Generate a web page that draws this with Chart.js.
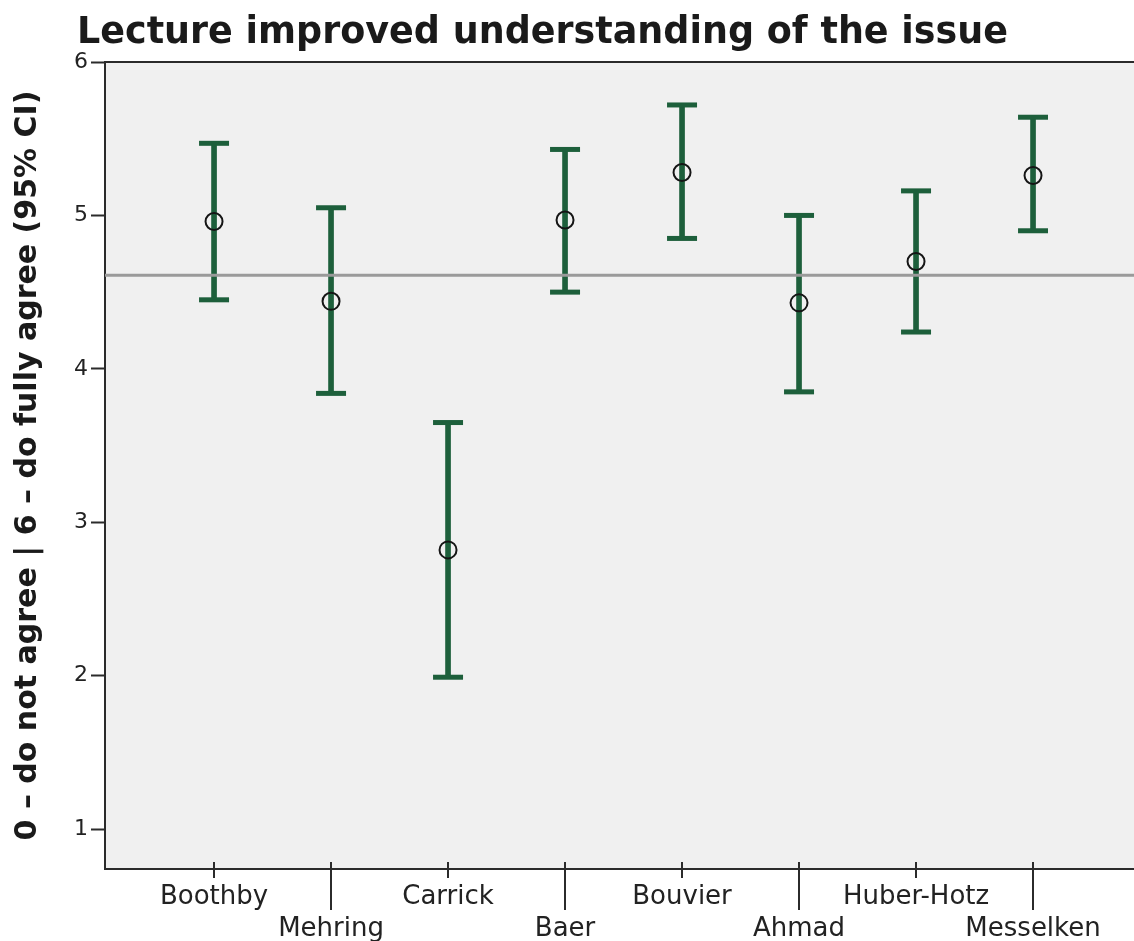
<!DOCTYPE html>
<html>
<head>
<meta charset="utf-8">
<script src="https://cdn.jsdelivr.net/npm/chart.js@4"></script>
<style>
    html, body {
        margin: 0;
        padding: 0;
        background: #ffffff;
        overflow: hidden;
    }
    #wrap {
        position: relative;
        width: 1134px;
        height: 941px;
    }
    #title {
        position: absolute;
        left: 77px;
        top: 9px;
        font-family: "DejaVu Sans", sans-serif;
        font-weight: bold;
        font-size: 36.5px;
        color: #1a1a1a;
        white-space: nowrap;
    }
</style>
</head>
<body>
<div id="wrap">
    <canvas id="chart" width="1134" height="941"></canvas>
    <div id="title">Lecture improved understanding of the issue</div>
</div>
<script>
const lecturers = ["Boothby", "Mehring", "Carrick", "Baer", "Bouvier", "Ahmad", "Huber-Hotz", "Messelken"];
const means = [4.96, 4.44, 2.82, 4.97, 5.28, 4.43, 4.70, 5.26];
const upperCI = [5.47, 5.05, 3.65, 5.43, 5.72, 5.00, 5.16, 5.64];
const lowerCI = [4.45, 3.84, 1.99, 4.50, 4.85, 3.85, 4.24, 4.90];
const overallMean = 4.61;
const yTicks = [1, 2, 3, 4, 5, 6];

const X_MIN = -0.932;
const X_MAX = 7.863;
const GREEN = "#1d5f3b";
const AXIS = "#2b2b2b";

const frame = {
    id: "frame",
    beforeDraw(chart) {
        const {ctx, chartArea} = chart;
        ctx.save();
        ctx.fillStyle = "#f0f0f0";
        ctx.fillRect(chartArea.left, chartArea.top, chartArea.right - chartArea.left, chartArea.bottom - chartArea.top);
        ctx.restore();
    },
    afterDraw(chart) {
        const {ctx, chartArea} = chart;
        const xScale = chart.scales.x;
        ctx.save();
        ctx.strokeStyle = AXIS;
        ctx.lineWidth = 2;
        ctx.beginPath();
        ctx.moveTo(chartArea.left - 1, chartArea.top);
        ctx.lineTo(chartArea.right, chartArea.top);
        ctx.stroke();

        // alternating short/long ticks on the category axis
        lecturers.forEach((name, i) => {
            const px = Math.round(xScale.getPixelForValue(i));
            const end = i % 2 ? chartArea.bottom + 41 : chartArea.bottom + 9;
            ctx.beginPath();
            ctx.moveTo(px, chartArea.bottom - 7);
            ctx.lineTo(px, end);
            ctx.stroke();
        });
        ctx.restore();
    }
};

const ciBars = lecturers.map((name, i) => ({x: i, y: [lowerCI[i], upperCI[i]]}));
const upperCaps = lecturers.map((name, i) => ({x: i, y: upperCI[i]}));
const lowerCaps = lecturers.map((name, i) => ({x: i, y: lowerCI[i]}));
const meanPoints = lecturers.map((name, i) => ({x: i, y: means[i]}));

new Chart(document.getElementById("chart"), {
    type: "bar",
    data: {
        datasets: [
            {
                type: "bar",
                data: ciBars,
                backgroundColor: GREEN,
                borderWidth: 0,
                barThickness: 5,
                order: 4
            },
            {
                type: "line",
                data: upperCaps,
                showLine: false,
                pointStyle: "line",
                pointRadius: 15,
                pointBorderWidth: 5,
                pointBorderColor: GREEN,
                order: 3
            },
            {
                type: "line",
                data: lowerCaps,
                showLine: false,
                pointStyle: "line",
                pointRadius: 15,
                pointBorderWidth: 5,
                pointBorderColor: GREEN,
                order: 3
            },
            {
                type: "line",
                data: [{x: X_MIN, y: overallMean}, {x: X_MAX, y: overallMean}],
                borderColor: "#9a9a9a",
                borderWidth: 3,
                pointRadius: 0,
                order: 2
            },
            {
                type: "line",
                data: meanPoints,
                showLine: false,
                pointStyle: "circle",
                pointRadius: 8.5,
                pointBorderWidth: 2,
                pointBorderColor: "#151515",
                pointBackgroundColor: "rgba(0,0,0,0)",
                order: 1
            }
        ]
    },
    options: {
        responsive: false,
        animation: false,
        events: [],
        layout: {
            autoPadding: false,
            padding: {top: 62, right: 0, bottom: 0, left: 0}
        },
        plugins: {
            legend: {display: false},
            tooltip: {enabled: false},
            title: {display: false}
        },
        scales: {
            x: {
                type: "linear",
                min: X_MIN,
                max: X_MAX,
                offset: false,
                afterFit(scale) {
                    scale.height = 72;
                    scale.paddingLeft = 0;
                    scale.paddingRight = 0;
                },
                afterBuildTicks(scale) {
                    scale.ticks = lecturers.map((name, i) => ({value: i}));
                },
                grid: {
                    display: true,
                    drawOnChartArea: false,
                    drawTicks: true,
                    tickLength: 9,
                    tickColor: "rgba(0,0,0,0)"
                },
                border: {display: true, color: AXIS, width: 2},
                ticks: {
                    autoSkip: false,
                    maxRotation: 0,
                    padding: 4,
                    color: "#222222",
                    font: {family: "DejaVu Sans", size: 26, lineHeight: 1.2},
                    callback: value => {
                        const name = lecturers[value];
                        return value % 2 ? ["", name] : name;
                    }
                }
            },
            y: {
                type: "linear",
                min: 0.74,
                max: 6,
                afterFit(scale) {
                    scale.width = 105;
                    scale.paddingTop = 0;
                    scale.paddingBottom = 0;
                },
                afterBuildTicks(scale) {
                    scale.ticks = yTicks.map(v => ({value: v}));
                },
                grid: {
                    display: true,
                    drawOnChartArea: false,
                    drawTicks: true,
                    tickLength: 14,
                    tickWidth: 2,
                    tickColor: AXIS
                },
                border: {display: true, color: AXIS, width: 2},
                ticks: {
                    padding: 3,
                    color: "#222222",
                    font: {family: "DejaVu Sans", size: 22}
                },
                title: {
                    display: true,
                    text: "0 – do not agree | 6 – do fully agree (95% CI)",
                    color: "#1a1a1a",
                    padding: {top: 10, bottom: 0},
                    font: {family: "DejaVu Sans", size: 30, weight: "bold"}
                }
            }
        }
    },
    plugins: [frame]
});
</script>
</body>
</html>
